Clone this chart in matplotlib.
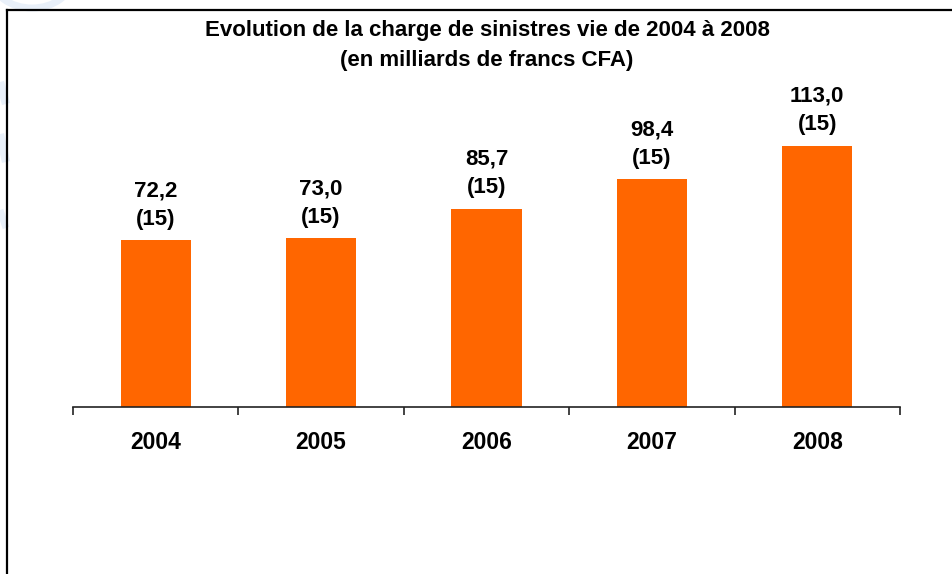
import matplotlib
matplotlib.use("Agg")
import matplotlib.pyplot as plt
from matplotlib.lines import Line2D
from matplotlib.patches import Arc
from matplotlib.transforms import Affine2D

# Charge de sinistres vie (milliards de francs CFA)
years = ["2004", "2005", "2006", "2007", "2008"]
charges = [72.2, 73.0, 85.7, 98.4, 113.0]
companies = [15, 15, 15, 15, 15]

title = "Evolution de la charge de sinistres vie de 2004 à 2008\n(en milliards de francs CFA)"

W, H = 953, 574
fig = plt.figure(figsize=(W / 100, H / 100), dpi=100)
plt.rcParams["font.family"] = ["Liberation Sans", "DejaVu Sans"]

# pixel coordinates measured from the top-left corner
px = Affine2D().scale(1 / W, -1 / H).translate(0, 1) + fig.transFigure

# faint background marks along the left edge
wm = "#e9f0f9"
fig.add_artist(Arc((32, -22), 80, 60, theta1=0, theta2=180, transform=px, color=wm, lw=5))
fig.add_artist(Line2D([0, 6], [82, 104], transform=px, color=wm, lw=6, solid_capstyle="butt"))
fig.add_artist(Line2D([0, 6], [134, 162], transform=px, color=wm, lw=6, solid_capstyle="butt"))
fig.add_artist(Line2D([0, 6], [210, 228], transform=px, color=wm, lw=5, solid_capstyle="butt"))

# axes placed in pixel terms
left, right, bottom_px, top_px = 73, 900, 407, 60
ax = fig.add_axes([left / W, (H - bottom_px) / H, (right - left) / W, (bottom_px - top_px) / H])

x = list(range(len(years)))
ax.bar(x, charges, width=0.425, color="#FF6600", zorder=2)

for xi, v, n in zip(x, charges, companies):
    label = f"{v:.1f}".replace(".", ",") + f"\n({n})"
    ax.annotate(label, (xi, v), xytext=(0, 7.5), textcoords="offset points",
                ha="center", va="bottom", fontsize=16, fontweight="bold",
                linespacing=1.47, color="black")

ax.set_xlim(-0.5, len(years) - 0.5)
ax.set_ylim(0, 150)
ax.set_yticks([])
ax.set_xticks(x)
ax.set_xticklabels(years, fontsize=16.5, fontweight="bold")
ax.set_xticks([i - 0.5 for i in range(len(years) + 1)], minor=True)
ax.tick_params(axis="x", which="major", length=0, pad=17)
ax.tick_params(axis="x", which="minor", length=5.5, width=1.2, color="#222222", direction="out")
for side in ("top", "right", "left"):
    ax.spines[side].set_visible(False)
ax.spines["bottom"].set_color("#222222")
ax.spines["bottom"].set_linewidth(1.2)
ax.patch.set_alpha(0)

fig.text(487 / W, 1 - 45.5 / H, title, ha="center", va="center",
         fontsize=16, fontweight="bold", linespacing=1.6)

# outer frame (left and top edges)
fig.add_artist(Line2D([7.5, 7.5], [H, 10], transform=px, color="black", lw=1.6))
fig.add_artist(Line2D([7.5, W], [10, 10], transform=px, color="black", lw=1.6))

fig.savefig("out.png", dpi=100)
